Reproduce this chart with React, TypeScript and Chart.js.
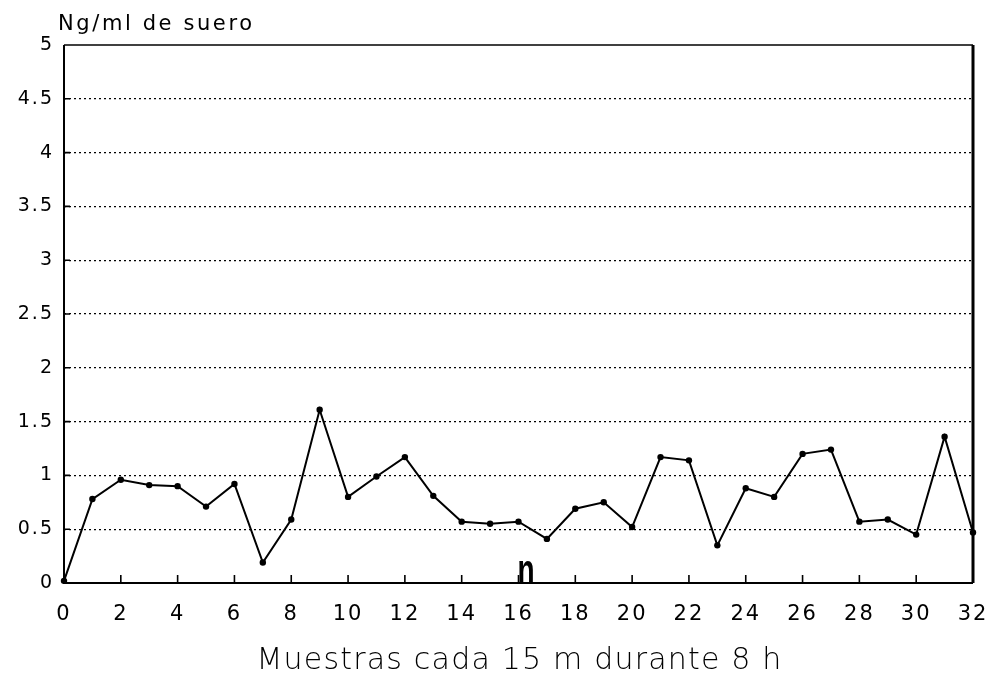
import { useEffect, useRef } from "react";
import { Chart, registerables } from "chart.js";

Chart.register(...registerables);

// Sample index (one sample every 15 minutes over 8 hours)
const samples: number[] = Array.from({ length: 33 }, (_, i) => i);

// Serum concentration, ng/ml
const serum: number[] = [
  0.02, 0.78, 0.96, 0.91, 0.9, 0.71, 0.92, 0.19, 0.59, 1.61,
  0.8, 0.99, 1.17, 0.81, 0.57, 0.55, 0.57, 0.41, 0.69, 0.75,
  0.52, 1.17, 1.14, 0.35, 0.88, 0.8, 1.2, 1.24, 0.57, 0.59,
  0.45, 1.36, 0.47,
];

const yTitle = "Ng/ml de suero";
const xTitle = "Muestras cada 15 m durante 8 h";
const yMax = 5;
const xMax = 32;

// small bold mark sitting on the baseline
const markAt = 16.27;
const markText = "n";

const FONT = "'DejaVu Sans', 'Liberation Sans', Arial, sans-serif";

const framePlugin = {
  id: "frame",
  beforeDraw(chart: any) {
    (chart.ctx as any).letterSpacing = "2px";
  },
  beforeDatasetsDraw(chart: any) {
    const { ctx, chartArea: a, scales } = chart;
    ctx.save();
    (ctx as any).letterSpacing = "0px";
    ctx.strokeStyle = "#000";
    ctx.lineWidth = 2;
    ctx.beginPath();
    ctx.moveTo(a.left, a.top);
    ctx.lineTo(a.left, a.bottom);
    ctx.lineTo(a.right, a.bottom);
    ctx.stroke();
    ctx.lineWidth = 1.6;
    ctx.beginPath();
    ctx.moveTo(a.left, a.top);
    ctx.lineTo(a.right, a.top);
    ctx.stroke();
    ctx.lineWidth = 3;
    ctx.beginPath();
    ctx.moveTo(a.right, a.top);
    ctx.lineTo(a.right, a.bottom);
    ctx.stroke();
    // inward tick marks
    ctx.lineWidth = 1.6;
    ctx.beginPath();
    for (const t of scales.x.ticks) {
      if (t.value <= 0 || t.value >= xMax) continue;
      const px = scales.x.getPixelForValue(t.value);
      ctx.moveTo(px, a.bottom);
      ctx.lineTo(px, a.bottom - 8);
    }
    for (const t of scales.y.ticks) {
      if (t.value <= 0 || t.value >= yMax) continue;
      const py = scales.y.getPixelForValue(t.value);
      ctx.moveTo(a.left, py);
      ctx.lineTo(a.left + 6, py);
    }
    ctx.stroke();
    // baseline mark
    const mx = scales.x.getPixelForValue(markAt);
    ctx.translate(mx, a.bottom + 1);
    ctx.scale(1, 1.55);
    ctx.fillStyle = "#000";
    ctx.font = `bold 28px 'Liberation Sans', Arial, sans-serif`;
    ctx.textAlign = "center";
    ctx.textBaseline = "alphabetic";
    ctx.fillText(markText, 0, 0);
    ctx.restore();
  },
  afterDraw(chart: any) {
    const { ctx, chartArea: a, scales } = chart;
    ctx.save();
    ctx.fillStyle = "#000";
    ctx.textBaseline = "alphabetic";
    (ctx as any).letterSpacing = "2.6px";
    ctx.font = `21px ${FONT}`;
    ctx.textAlign = "left";
    ctx.fillText(yTitle, a.left - 6, 30);
    (ctx as any).letterSpacing = "1.2px";
    ctx.font = `200 30px ${FONT}`;
    ctx.textAlign = "center";
    const cx = (scales.x.left + scales.x.right) / 2;
    ctx.fillText(xTitle, cx + 1, 669);
    ctx.restore();
  },
};

const plain = (v: any) => String(Number(v));

export default function App() {
  const ref = useRef<HTMLCanvasElement>(null);

  useEffect(() => {
    if (!ref.current) return;
    const chart = new Chart(ref.current, {
      type: "line",
      data: {
        datasets: [
          {
            data: samples.map((s, i) => ({ x: s, y: serum[i] })),
            borderColor: "#000",
            backgroundColor: "#000",
            borderWidth: 2,
            pointRadius: 3.2,
            pointBorderWidth: 0,
            pointBackgroundColor: "#000",
            tension: 0,
            clip: false,
          },
        ],
      },
      options: {
        animation: false,
        responsive: true,
        maintainAspectRatio: false,
        layout: { padding: { top: 45, right: 22, left: 8, bottom: 0 } },
        plugins: {
          legend: { display: false },
          tooltip: { enabled: false },
          title: { display: false },
        },
        scales: {
          x: {
            type: "linear",
            min: 0,
            max: xMax,
            afterFit(scale: any) {
              scale.height = 91;
              scale.paddingLeft = 0;
              scale.paddingRight = 0;
            },
            ticks: {
              stepSize: 2,
              color: "#000",
              padding: 19,
              callback: plain,
              font: { family: FONT, size: 21 },
            },
            grid: { display: false, drawTicks: false },
            border: { display: false },
          },
          y: {
            min: 0,
            max: yMax,
            afterFit(scale: any) {
              scale.width = 56;
              scale.paddingTop = 0;
              scale.paddingBottom = 0;
            },
            ticks: {
              stepSize: 0.5,
              color: "#000",
              padding: 10,
              callback: plain,
              font: { family: FONT, size: 19 },
            },
            grid: {
              drawTicks: false,
              lineWidth: 1.3,
              color: (c: any) =>
                c.tick && (c.tick.value === 0 || c.tick.value === yMax)
                  ? "rgba(0,0,0,0)"
                  : "#000",
            },
            border: { display: false, dash: [2, 3] },
          },
        },
      },
      plugins: [framePlugin],
    });
    return () => chart.destroy();
  }, []);

  return (
    <div
      style={{
        position: "fixed",
        left: 0,
        top: 0,
        width: 995,
        height: 674,
        background: "#fff",
      }}
    >
      <canvas ref={ref} />
    </div>
  );
}
